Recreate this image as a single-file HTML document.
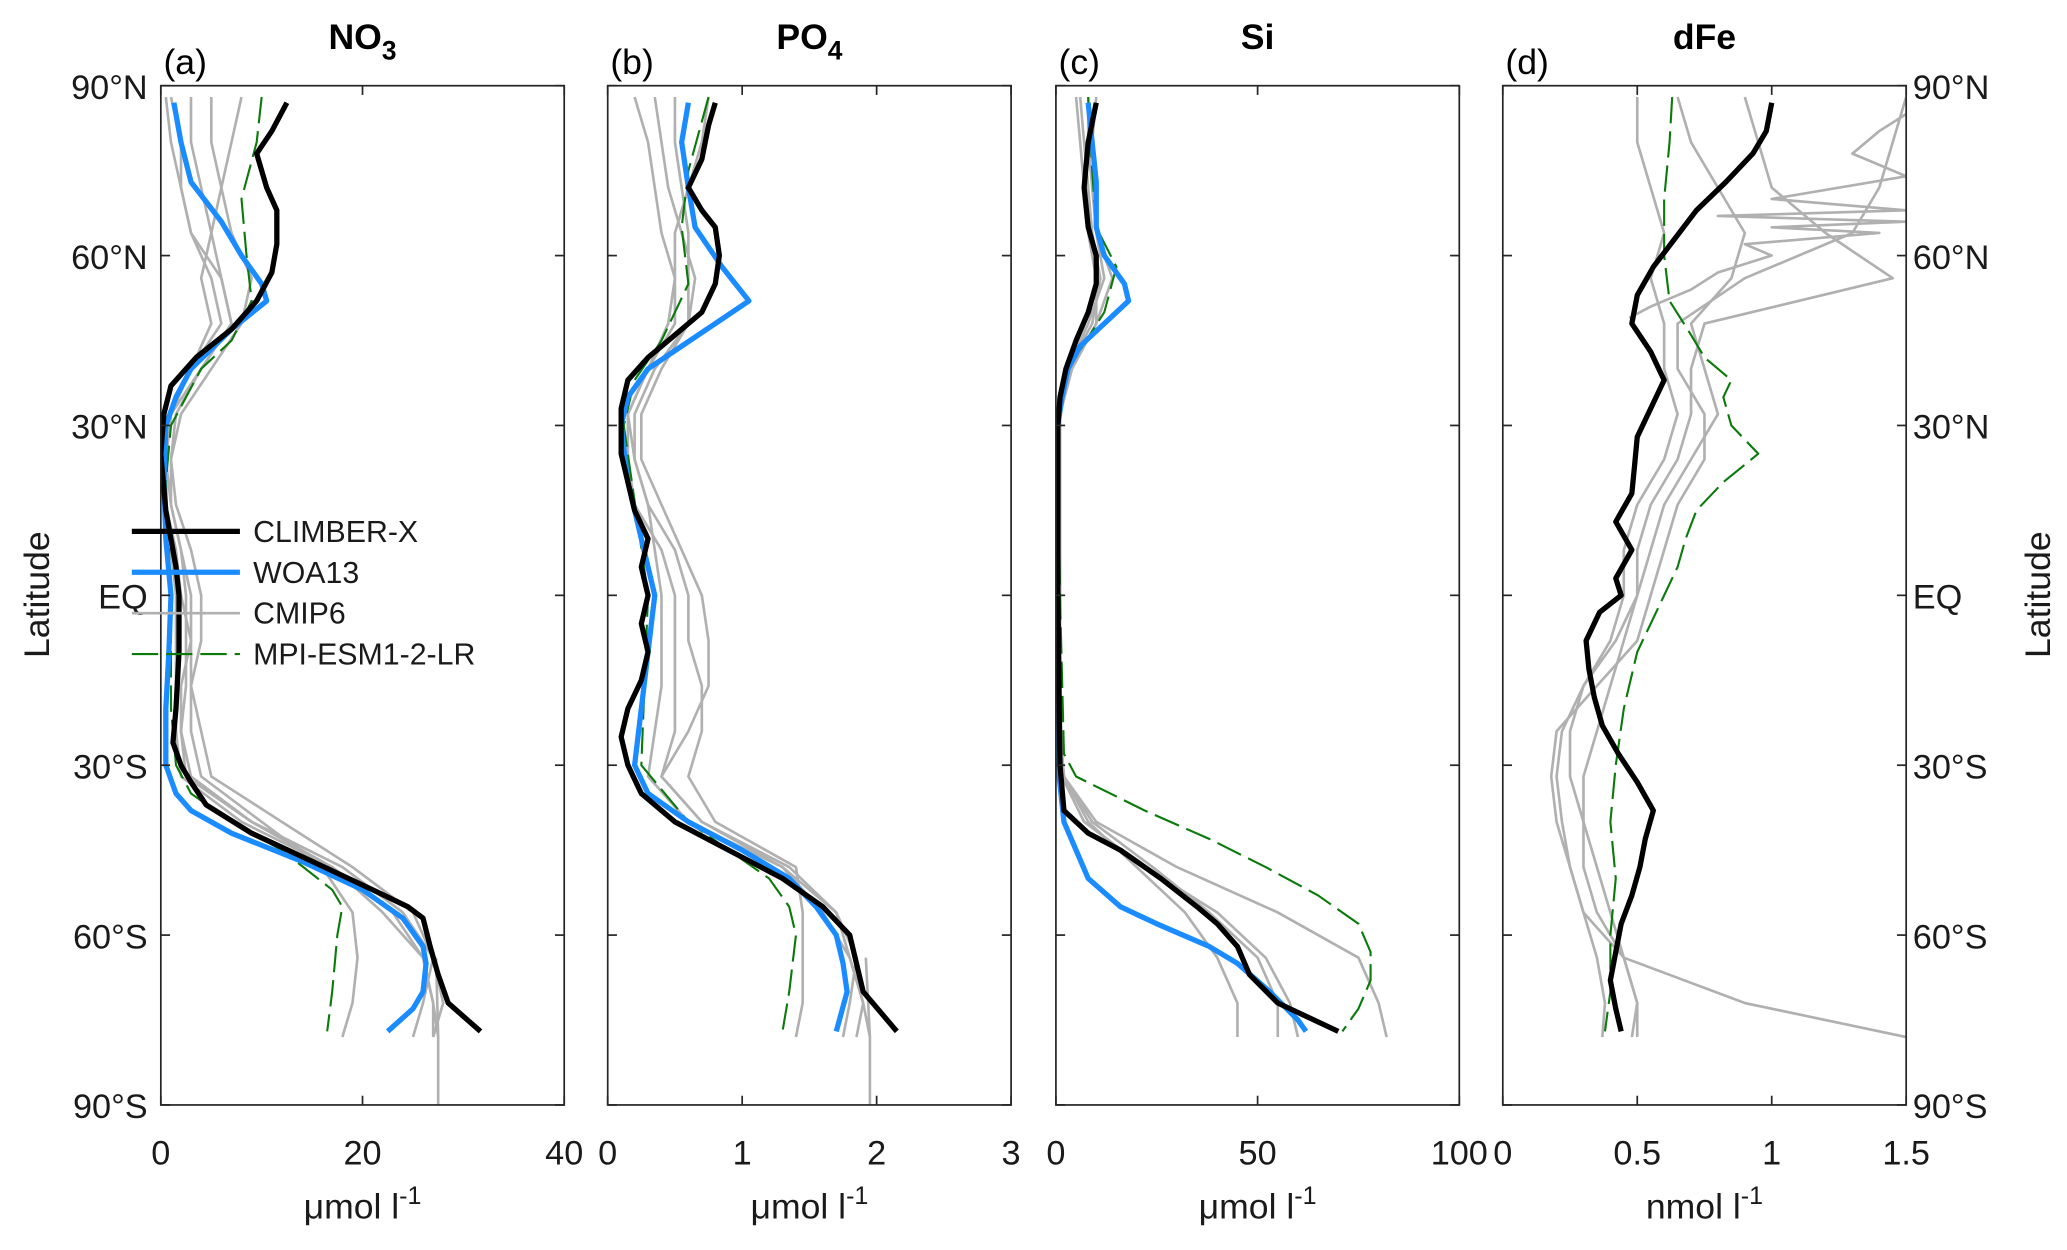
<!DOCTYPE html>
<html><head><meta charset="utf-8"><style>
html,body{margin:0;padding:0;background:#fff;}
svg{display:block;font-family:"Liberation Sans","DejaVu Sans",sans-serif;}
</style></head><body>
<svg id="fig" width="2067" height="1250" viewBox="0 0 1568 948" preserveAspectRatio="none" xmlns="http://www.w3.org/2000/svg"></svg>
<script>
const NS="http://www.w3.org/2000/svg";
const svg=document.getElementById('fig');
const latTicks=[90,60,30,0,-30,-60,-90];
const latTickLabels=["90°N","60°N","30°N","EQ","30°S","60°S","90°S"];
const gLats=[88,80,72,64,56,48,40,32,24,16,8,0,-8,-16,-24,-32,-40,-48,-56,-64,-72,-78];
const panelNames=["no3","po4","si","dfe"];
const panelTitles=["NO","PO","Si","dFe"];
const panelSubs=["3","4","",""];
const panelLetters=["(a)","(b)","(c)","(d)"];
const xMaxes=[40,3,100,1.5];
const xTickVals=[[0,20,40],[0,1,2,3],[0,50,100],[0,0.5,1,1.5]];
const xTickLabels=[["0","20","40"],["0","1","2","3"],["0","50","100"],["0","0.5","1","1.5"]];
const xUnits=["μmol l","μmol l","μmol l","nmol l"];
// NO3
const no3BlackLat=[87,82,78,72,68,62,57,52,47,42,37,32,25,15,5,0,-5,-10,-20,-26,-30,-33,-37,-42,-47,-52,-55,-57,-62,-67,-72,-77];
const no3Black=[12.5,11,9.5,10.5,11.5,11.5,11,9.5,7,3.5,1,0.3,0,0.5,1.5,1.8,1.8,1.8,1.5,1.2,2,3,4.5,9,15,21,24.5,26,26.7,27.5,28.5,31.7];
const no3BlueLat=[87,80,73,66,60,55,52,47,40,35,30,20,10,0,-10,-20,-30,-35,-38,-42,-47,-52,-57,-62,-65,-70,-73,-77];
const no3Blue=[1.3,2,3,6,8,10,10.5,7,3,1.5,0.5,0.3,0.5,1,0.8,0.5,0.5,1.5,3,7,14,20,24,26,26.3,26,25,22.5];
const no3MpiLat=[88,80,70,60,52,45,40,30,20,0,-20,-30,-35,-40,-45,-52,-55,-60,-70,-77];
const no3Mpi=[10,9.5,8,8.5,9,7,4,1,0.5,1,1,1.5,3,7,12,17,18,17.5,17,16.5];
const no3Gray1=[0.5,1,2,3,5,6,3,1,0.5,0.5,1,1.5,1.5,1.5,1.5,2,8,17,22,26,27,27];
const no3Gray2=[3,3,4,5,6,7,4,1.5,1,1,2,2.5,2.5,2.5,2,3,9,18,24,27,28,27];
const no3Gray3=[5,5,6,7,9,8,5,2,1,1.5,3,4,4,3,3,4,10,16,19,19.5,19,18];
const no3Gray4=[8,7,6,5,4,5,3,1,0.5,0.5,1.5,2,3,3,4,5,12,19,25,27,26,25];
const no3Gray5=[1,2,2,3,6,7,4,1,0.5,1,2,3,3,2,2,2.5,9,17,23,26,27,27.5];
// PO4
const po4BlackLat=[87,83,77,72,68,65,60,55,50,45,42,38,33,25,15,10,5,0,-5,-10,-15,-20,-25,-30,-35,-40,-45,-50,-55,-60,-65,-70,-77];
const po4Black=[0.8,0.75,0.7,0.6,0.7,0.8,0.83,0.8,0.7,0.45,0.3,0.15,0.1,0.1,0.2,0.3,0.25,0.3,0.25,0.3,0.25,0.15,0.1,0.15,0.25,0.5,0.9,1.3,1.6,1.8,1.85,1.9,2.15];
const po4BlueLat=[87,80,72,65,58,52,48,44,40,35,30,20,10,0,-10,-20,-30,-35,-40,-45,-50,-55,-60,-65,-70,-77];
const po4Blue=[0.6,0.55,0.6,0.65,0.85,1.05,0.8,0.55,0.3,0.15,0.1,0.15,0.25,0.35,0.3,0.25,0.2,0.3,0.6,1,1.35,1.55,1.7,1.75,1.78,1.7];
const po4MpiLat=[88,75,65,55,45,38,30,0,-30,-40,-50,-55,-60,-70,-77];
const po4Mpi=[0.75,0.6,0.55,0.6,0.4,0.2,0.12,0.3,0.25,0.6,1.2,1.35,1.4,1.35,1.3];
const po4Gray1=[0.2,0.3,0.35,0.4,0.5,0.5,0.3,0.15,0.15,0.2,0.4,0.5,0.5,0.5,0.5,0.4,0.7,1.3,1.6,1.8,1.9,1.95];
const po4Gray2=[0.5,0.5,0.55,0.6,0.6,0.6,0.35,0.2,0.2,0.3,0.5,0.6,0.6,0.7,0.7,0.6,0.8,1.4,1.45,1.45,1.45,1.4];
const po4Gray3=[0.75,0.7,0.6,0.5,0.5,0.45,0.3,0.15,0.2,0.3,0.35,0.4,0.4,0.4,0.35,0.3,0.6,1.3,1.7,1.85,1.8,1.75];
const po4Gray4=[0.35,0.4,0.45,0.55,0.65,0.6,0.4,0.25,0.25,0.4,0.55,0.7,0.75,0.75,0.6,0.4,0.7,1.35,1.7,1.8,1.9,1.85];
// Si
const siBlackLat=[87,80,72,65,60,55,50,45,40,35,30,0,-30,-38,-42,-45,-50,-55,-58,-62,-67,-72,-77];
const siBlack=[10,8,7,8,10,10,8,5,2.5,1,0.5,0.5,1,2,8,16,26,35,40,45,48,55,70];
const siBlueLat=[87,80,73,65,60,55,52,48,44,40,35,30,0,-30,-40,-45,-50,-55,-58,-62,-65,-70,-75,-77];
const siBlue=[8,9,10,10,12,17,18,12,6,3,1.5,0.5,0.3,0.5,2,5,8,16,25,38,45,53,60,62];
const siMpiLat=[88,75,65,58,50,40,30,0,-28,-32,-38,-43,-48,-53,-58,-63,-68,-73,-77];
const siMpi=[8,9,10,15,12,3,0.5,1,2,5,22,38,52,65,75,78,78,75,71];
const siGray1=[5,6,7,8,10,10,4,1,1,1,1,1,1,1,1,2,8,20,32,40,45,45];
const siGray2=[8,8,9,10,12,8,3,1,0.5,0.5,1,1,1,1,1,2,10,30,55,75,80,82];
const siGray3=[10,9,10,10,14,10,4,1,1,1,1,1,1,1,1,2,9,24,38,50,55,55];
const siGray4=[6,7,8,9,11,9,3,1,0.5,0.5,0.5,0.5,0.5,0.5,1,1.5,7,22,40,52,58,60];
// dFe
const feBlackLat=[87,82,78,73,68,63,58,53,48,43,38,33,28,23,18,13,8,3,0,-3,-8,-13,-18,-23,-28,-33,-38,-43,-48,-53,-58,-63,-68,-73,-77];
const feBlack=[1.0,0.98,0.93,0.83,0.72,0.64,0.56,0.5,0.48,0.55,0.6,0.55,0.5,0.49,0.48,0.42,0.48,0.42,0.44,0.36,0.31,0.32,0.34,0.37,0.43,0.5,0.56,0.53,0.51,0.48,0.44,0.42,0.4,0.42,0.44];
const feMpiLat=[88,80,70,60,52,46,42,38,35,30,25,20,15,10,5,0,-5,-10,-20,-30,-40,-50,-60,-70,-77];
const feMpi=[0.63,0.62,0.6,0.6,0.62,0.7,0.75,0.85,0.82,0.85,0.95,0.82,0.72,0.68,0.65,0.6,0.55,0.5,0.45,0.42,0.4,0.42,0.4,0.4,0.38];
const feGray1=[0.9,0.95,1.0,1.2,1.45,0.75,0.7,0.7,0.65,0.55,0.5,0.5,0.42,0.3,0.22,0.2,0.22,0.25,0.3,0.45,0.9,1.5];
const feGray2=[0.65,0.7,0.8,0.9,0.85,0.7,0.75,0.8,0.7,0.6,0.55,0.5,0.45,0.4,0.35,0.3,0.3,0.3,0.35,0.45,0.5,0.48];
const feGray3=[1.5,1.45,1.4,1.3,0.9,0.65,0.65,0.75,0.75,0.65,0.6,0.55,0.5,0.35,0.2,0.18,0.2,0.25,0.3,0.35,0.38,0.37];
const feGray4=[0.5,0.5,0.55,0.6,0.55,0.6,0.6,0.65,0.6,0.5,0.45,0.45,0.4,0.3,0.25,0.25,0.3,0.35,0.4,0.45,0.5,0.5];
const feSpikeLat=[85,82,78,74,70,68,67,66,65,64,62,60,57,54,51,49];
const feSpike=[1.5,1.4,1.3,1.5,1.0,1.5,0.8,1.5,1.0,1.4,0.9,1.0,0.8,0.7,0.55,0.47];

const panels=[
 {black:[no3BlackLat,no3Black],blue:[no3BlueLat,no3Blue],mpi:[no3MpiLat,no3Mpi],grays:[[gLats,no3Gray1],[gLats,no3Gray2],[gLats,no3Gray3],[gLats,no3Gray4],[gLats,no3Gray5]],extra:[[[-64,-78,-90],[27.3,27.5,27.5]]]},
 {black:[po4BlackLat,po4Black],blue:[po4BlueLat,po4Blue],mpi:[po4MpiLat,po4Mpi],grays:[[gLats,po4Gray1],[gLats,po4Gray2],[gLats,po4Gray3],[gLats,po4Gray4]],extra:[[[-64,-78,-90],[1.92,1.95,1.95]]]},
 {black:[siBlackLat,siBlack],blue:[siBlueLat,siBlue],mpi:[siMpiLat,siMpi],grays:[[gLats,siGray1],[gLats,siGray2],[gLats,siGray3],[gLats,siGray4]],extra:[]},
 {black:[feBlackLat,feBlack],blue:null,mpi:[feMpiLat,feMpi],grays:[[gLats,feGray1],[gLats,feGray2],[gLats,feGray3],[gLats,feGray4],[feSpikeLat,feSpike]],extra:[]}
];
const pLeft=[122,461,801,1140], pW=306, yTop=65, yBot=838;
function yS(lat){return yTop+(90-lat)/180*(yBot-yTop);}
function mk(tag,attrs,parent){const e=document.createElementNS(NS,tag);for(const k in attrs)e.setAttribute(k,attrs[k]);(parent||svg).appendChild(e);return e;}
function line(p,lats,vals,stroke,w,dash,name,par){
  const xs=v=>pLeft[p]+v/xMaxes[p]*pW;
  const d=lats.map((la,i)=>(i?'L':'M')+xs(vals[i]).toFixed(1)+' '+yS(la).toFixed(1)).join(' ');
  const e=mk('path',{d:d,fill:'none',stroke:stroke,'stroke-width':w,'stroke-linejoin':'round'},par);
  if(dash)e.setAttribute('stroke-dasharray',dash);
  
  
}
for(let p=0;p<4;p++){
  const g=mk('g',{});
  
  
  const cp=mk('clipPath',{id:'cp'+p},g);mk('rect',{x:pLeft[p],y:yTop,width:pW,height:yBot-yTop},cp);
  const lg=mk('g',{'clip-path':'url(#cp'+p+')'},g);
  const P=panels[p];
  P.grays.forEach((s,i)=>line(p,s[0],s[1],'#b0b0b0',2,null,'cmip6-line-'+(i+1),lg));
  P.extra.forEach((s,i)=>line(p,s[0],s[1],'#b0b0b0',2,null,'cmip6-tail-'+(i+1),lg));
  line(p,P.mpi[0],P.mpi[1],'#0a7a0a',1.6,'20 6','mpi-esm-line',lg);
  if(P.blue)line(p,P.blue[0],P.blue[1],'#1a8cff',4,null,'woa13-line',lg);
  line(p,P.black[0],P.black[1],'#000',4,null,'climber-x-line',lg);
  const box=mk('rect',{x:pLeft[p],y:yTop,width:pW,height:yBot-yTop,fill:'none',stroke:'#262626','stroke-width':1.3},g);
  
  latTicks.forEach(la=>{const y=yS(la);mk('line',{x1:pLeft[p],x2:pLeft[p]+7,y1:y,y2:y,stroke:'#262626','stroke-width':1.3},g);mk('line',{x1:pLeft[p]+pW-7,x2:pLeft[p]+pW,y1:y,y2:y,stroke:'#262626','stroke-width':1.3},g);});
  xTickVals[p].forEach((v,i)=>{const x=pLeft[p]+v/xMaxes[p]*pW;
    mk('line',{x1:x,x2:x,y1:yBot,y2:yBot-7,stroke:'#262626','stroke-width':1.3},g);
    mk('line',{x1:x,x2:x,y1:yTop,y2:yTop+7,stroke:'#262626','stroke-width':1.3},g);
    const t=mk('text',{x:x,y:883,'font-size':26,'text-anchor':'middle',fill:'#1a1a1a'},g);t.textContent=xTickLabels[p][i];
    });
  const cx=pLeft[p]+pW/2;
  const xt=mk('text',{x:cx,y:924,'font-size':27,'text-anchor':'middle',fill:'#1a1a1a'},g);
  xt.textContent=xUnits[p];const sup=mk('tspan',{dy:-11,'font-size':19},xt);sup.textContent='-1';
  
  const tt=mk('text',{x:cx,y:37,'font-size':27,'font-weight':'bold','text-anchor':'middle',fill:'#000'},g);
  tt.textContent=panelTitles[p];if(panelSubs[p]){const s=mk('tspan',{dy:8,'font-size':20},tt);s.textContent=panelSubs[p];}
  
  const lt=mk('text',{x:pLeft[p]+2,y:56,'font-size':27,fill:'#000'},g);lt.textContent=panelLetters[p];
  
}
latTicks.forEach((la,i)=>{
  const t=mk('text',{x:112,y:yS(la)+10,'font-size':26,'text-anchor':'end',fill:'#1a1a1a'});t.textContent=latTickLabels[i];
  
  const r=mk('text',{x:1451,y:yS(la)+10,'font-size':26,'text-anchor':'start',fill:'#1a1a1a'});r.textContent=latTickLabels[i];
  
});
const yl=mk('text',{x:0,y:0,'font-size':27,'text-anchor':'middle',fill:'#1a1a1a',transform:'translate(37,451) rotate(-90)'});yl.textContent='Latitude';

const yr=mk('text',{x:0,y:0,'font-size':27,'text-anchor':'middle',fill:'#1a1a1a',transform:'translate(1555,451) rotate(-90)'});yr.textContent='Latitude';

// legend
const leg=mk('g',{});

const legNames=['CLIMBER-X','WOA13','CMIP6','MPI-ESM1-2-LR'];
const legColors=['#000','#1a8cff','#b0b0b0','#0a7a0a'];
const legW=[4,4,2,1.6];
legNames.forEach((n,i)=>{const y=403+i*31;
  const l=mk('line',{x1:100,x2:182,y1:y,y2:y,stroke:legColors[i],'stroke-width':legW[i]},leg);
  if(i==3)l.setAttribute('stroke-dasharray','20 6');
  const t=mk('text',{x:192,y:y+8,'font-size':23,fill:'#1a1a1a'},leg);t.textContent=n;
  });
</script>
</body></html>
